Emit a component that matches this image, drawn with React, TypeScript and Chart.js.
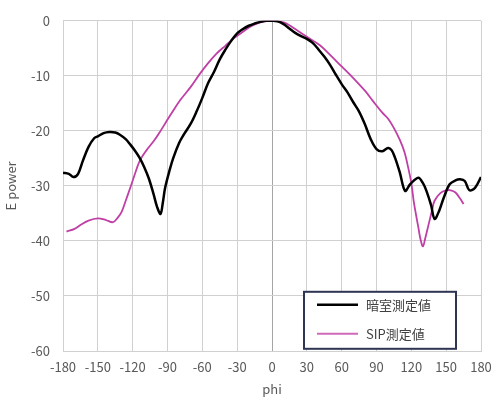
import React, { useEffect, useRef } from "react";
import { Chart, registerables } from "chart.js";

Chart.register(...registerables);

const seriesNames = ["暗室測定値", "SIP測定値"];

const darkPhi = [-180, -175, -171, -167, -163, -158, -153, -150, -145, -140, -135, -131, -126, -122, -118, -114, -110, -106, -102, -99, -96, -94, -92, -88, -85, -80, -76, -70, -65, -60, -55, -50, -45, -40, -35, -30, -25, -20, -15, -10, -5, 0, 5, 10, 15, 20, 25, 30, 35, 40, 45, 50, 55, 60, 65, 70, 75, 80, 85, 90, 95, 100, 103, 106, 110, 114.6, 119, 126, 130, 133, 137, 140, 144, 148, 153, 158, 162, 166, 170, 175, 180];
const darkVal = [-27.6, -27.8, -28.4, -27.8, -25.5, -22.9, -21.3, -21.0, -20.4, -20.2, -20.3, -20.7, -21.5, -22.5, -23.6, -24.9, -26.6, -28.7, -31.5, -33.8, -35.1, -33.0, -30.3, -27.0, -24.9, -22.2, -20.7, -18.7, -16.5, -14.0, -11.3, -9.3, -7.0, -5.2, -3.6, -2.3, -1.5, -0.9, -0.5, -0.2, 0, 0, -0.1, -0.6, -1.4, -2.2, -2.8, -3.3, -4.0, -5.2, -6.5, -8.0, -9.8, -11.5, -13.0, -14.8, -16.5, -18.8, -21.5, -23.3, -23.7, -23.1, -23.5, -24.9, -27.5, -30.9, -29.7, -28.5, -29.5, -30.9, -33.5, -36.0, -34.5, -32.1, -29.7, -29.0, -28.8, -29.1, -30.8, -30.3, -28.4];

const sipPhi = [-177, -170, -165, -158, -150, -143, -137, -133, -129.5, -126, -122, -118, -114, -108, -102, -96, -91, -85, -79, -70, -62, -55, -48, -40, -33, -25, -18, -10, -3, 5, 10, 15, 20, 30, 41, 50, 60, 70, 80, 87, 95, 100, 105, 110, 114, 117, 120, 122, 124, 126, 128, 130, 132, 135, 138, 140, 145, 150, 154, 158, 162, 165];
const sipVal = [-38.3, -37.8, -37.1, -36.3, -35.9, -36.2, -36.6, -35.8, -34.7, -32.7, -30.3, -27.8, -25.5, -23.5, -21.9, -20.0, -18.3, -16.3, -14.4, -12.0, -9.6, -7.7, -6.0, -4.5, -3.2, -2.0, -1.0, -0.3, 0, -0.1, -0.3, -0.8, -1.5, -2.9, -4.4, -6.2, -8.3, -10.4, -12.7, -14.6, -16.7, -17.8, -19.5, -21.6, -23.8, -26.4, -29.5, -32.7, -35.2, -37.5, -39.8, -41.0, -39.5, -36.9, -34.3, -32.7, -31.3, -30.8, -30.8, -31.2, -32.3, -33.3];

const xTicks = [-180, -150, -120, -90, -60, -30, 0, 30, 60, 90, 120, 150, 180];
const yTicks = [0, -10, -20, -30, -40, -50, -60];

const colors = ["#000000", "#bf3fa6"];
const FONT = "'Noto Sans CJK JP', 'Noto Sans', sans-serif";

const legendPlugin = {
  id: "boxLegend",
  afterDraw(chart: any) {
    const { ctx, chartArea } = chart;
    const left = chartArea.left + 241;
    const top = chartArea.top + 271;
    const w = 152;
    const h = 57;
    ctx.save();
    ctx.fillStyle = "#ffffff";
    ctx.fillRect(left, top, w, h);
    ctx.strokeStyle = "#2d3553";
    ctx.lineWidth = 2;
    ctx.strokeRect(left, top, w, h);
    const rows = [
      { y: top + 13, color: colors[0], width: 2.5 },
      { y: top + 42, color: "#cf6ab9", width: 2 },
    ];
    rows.forEach((r, i) => {
      ctx.strokeStyle = r.color;
      ctx.lineWidth = r.width;
      ctx.beginPath();
      ctx.moveTo(left + 13, r.y);
      ctx.lineTo(left + 54, r.y);
      ctx.stroke();
      ctx.fillStyle = "#404040";
      ctx.font = `13px ${FONT}`;
      ctx.textBaseline = "middle";
      ctx.textAlign = "left";
      ctx.fillText(seriesNames[i], left + 62, r.y);
    });
    ctx.restore();
  },
};

export default function App() {
  const ref = useRef<HTMLCanvasElement | null>(null);
  useEffect(() => {
    if (!ref.current) return;
    const chart = new Chart(ref.current, {
      type: "scatter",
      data: {
        datasets: [
          {
            label: seriesNames[0],
            data: darkPhi.map((x, i) => ({ x, y: darkVal[i] })),
            showLine: true,
            borderColor: colors[0],
            borderWidth: 2.5,
            pointRadius: 0,
            tension: 0.35,
            fill: false,
          },
          {
            label: seriesNames[1],
            data: sipPhi.map((x, i) => ({ x, y: sipVal[i] })),
            showLine: true,
            borderColor: colors[1],
            borderWidth: 1.8,
            pointRadius: 0,
            tension: 0.35,
            fill: false,
          },
        ],
      },
      options: {
        animation: false,
        responsive: false,
        devicePixelRatio: 1,
        layout: { padding: { top: 19, right: 10, left: 0, bottom: 0 } },
        plugins: { legend: { display: false }, tooltip: { enabled: false } },
        scales: {
          x: {
            type: "linear",
            min: -180,
            max: 180,
            afterBuildTicks: (s: any) => {
              s.ticks = xTicks.map((v) => ({ value: v }));
            },
            afterFit: (s: any) => {
              s.height = 50;
              s.paddingLeft = 0;
              s.paddingRight = 0;
            },
            ticks: { color: "#595959", font: { size: 13, family: FONT }, padding: 8, maxRotation: 0 },
            grid: {
              color: (c: any) => (c.tick && c.tick.value === 0 ? "#a6a6a6" : "#d0d0d0"),
              lineWidth: 1,
              drawTicks: false,
            },
            border: { color: "#d0d0d0" },
            title: { display: true, text: "phi", color: "#595959", font: { size: 13, family: FONT }, padding: { top: 4 } },
          },
          y: {
            type: "linear",
            min: -60,
            max: 0,
            afterBuildTicks: (s: any) => {
              s.ticks = yTicks.map((v) => ({ value: v }));
            },
            afterFit: (s: any) => {
              s.width = 63;
            },
            ticks: { color: "#595959", font: { size: 13, family: FONT }, padding: 13 },
            grid: { color: "#d0d0d0", lineWidth: 1, drawTicks: false },
            border: { color: "#d0d0d0" },
            title: { display: true, text: "E power", color: "#595959", font: { size: 13, family: FONT }, padding: { top: 3, bottom: 0 } },
          },
        },
      },
      plugins: [legendPlugin],
    } as any);
    return () => chart.destroy();
  }, []);
  return (
    <div style={{ position: "fixed", left: 0, top: 0, width: 491, height: 401, background: "#fff" }}>
      <canvas ref={ref} width={491} height={401} style={{ width: 491, height: 401, display: "block" }} />
    </div>
  );
}
